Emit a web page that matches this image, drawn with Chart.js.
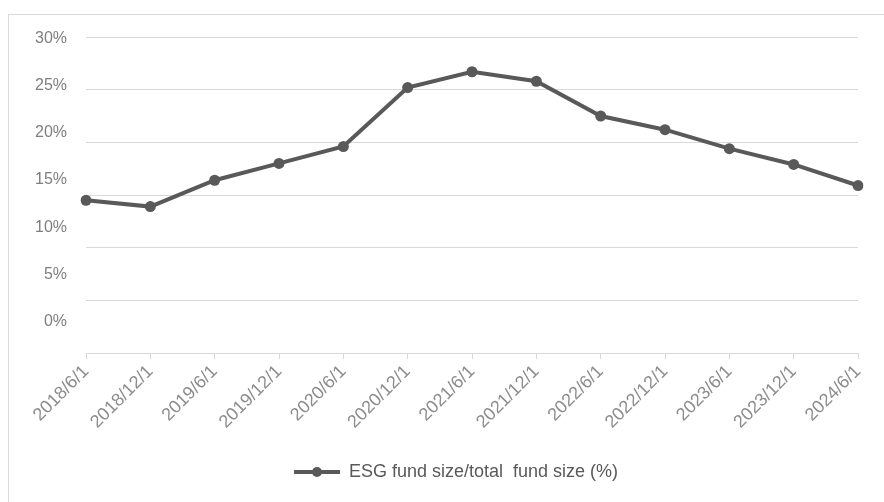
<!DOCTYPE html>
<html>
<head>
<meta charset="utf-8">
<script src="https://cdn.jsdelivr.net/npm/chart.js@4/dist/chart.umd.min.js"></script>
<style>
  html, body { margin: 0; padding: 0; background: #fff; }
  #wrap { position: relative; width: 884px; height: 502px; overflow: hidden; }
  #frame { position: absolute; left: 8px; top: 14px; width: 900px; height: 520px;
           border-left: 1px solid #d9d9d9; border-top: 1px solid #d9d9d9; }
  #grafica { position: absolute; left: 0; top: 0; }
</style>
</head>
<body>
<div id="wrap">
  <div id="frame"></div>
  <canvas id="grafica" width="884" height="502"></canvas>
</div>
<script>
// datos
let fechas = ["2018/6/1","2018/12/1","2019/6/1","2019/12/1","2020/6/1","2020/12/1","2021/6/1",
              "2021/12/1","2022/6/1","2022/12/1","2023/6/1","2023/12/1","2024/6/1"];
let ratioESG = [14.5, 13.9, 16.4, 18.0, 19.6, 25.2, 26.7, 25.8, 22.5, 21.2, 19.4, 17.9, 15.9];
let yTicks = [0, 5, 10, 15, 20, 25, 30];
let nombreSerie = "ESG fund size/total  fund size (%)";

let gris = "#595959";
let fuente = "'Liberation Sans', Arial, sans-serif";

// marcador de la leyenda: linea con punto
let marca = document.createElement("canvas");
marca.width = 46; marca.height = 12;
let mc = marca.getContext("2d");
mc.strokeStyle = gris; mc.lineWidth = 4;
mc.beginPath(); mc.moveTo(0, 6); mc.lineTo(46, 6); mc.stroke();
mc.fillStyle = gris;
mc.beginPath(); mc.arc(23, 6, 5, 0, Math.PI * 2); mc.fill();

let chartESG = new Chart(document.getElementById("grafica"), {
    type: 'line',
    data: {
        labels: fechas,
        datasets: [{
            label: nombreSerie,
            data: ratioESG,
            borderColor: gris,
            backgroundColor: gris,
            borderWidth: 4,
            pointRadius: 5.5,
            pointBackgroundColor: gris,
            pointBorderWidth: 0,
            tension: 0,
            yAxisID: 'y'
        }]
    },
    options: {
        responsive: false,
        animation: false,
        layout: { padding: { top: 37, right: 0, bottom: 11, left: 28 } },
        plugins: {
            tooltip: { enabled: false },
            legend: {
                position: 'bottom',
                labels: {
                    usePointStyle: true,
                    pointStyleWidth: 46,
                    padding: 10,
                    color: gris,
                    font: { family: fuente, size: 18 },
                    generateLabels: () => [{
                        text: nombreSerie,
                        pointStyle: marca,
                        fillStyle: gris,
                        strokeStyle: gris,
                        lineWidth: 0,
                        fontColor: gris,
                        datasetIndex: 0
                    }]
                }
            }
        },
        scales: {
            x: {
                offset: false,
                grid: { drawOnChartArea: false, drawTicks: true, tickLength: 6, color: "#d9d9d9" },
                border: { color: "#d9d9d9" },
                ticks: { minRotation: 45, maxRotation: 45, color: "#8c8c8c", padding: 2,
                         font: { family: fuente, size: 18 } },
                afterFit: s => { s.height = 100; }
            },
            y: {
                min: 0, max: 30,
                weight: 0,
                grid: { color: "#d9d9d9", drawTicks: false },
                border: { display: false },
                ticks: { display: false, stepSize: 5 },
                afterFit: s => { s.width = 0; }
            },
            yEtiq: {
                position: 'left',
                weight: 1,
                min: -3.38, max: 30.21,
                grid: { display: false, drawTicks: false },
                border: { display: false },
                afterBuildTicks: s => { s.ticks = yTicks.map(v => ({ value: v })); },
                ticks: { color: "#7f7f7f", padding: 19, font: { family: fuente, size: 16 },
                         callback: v => v + "%" },
                afterFit: s => { s.width = 58; }
            },
            yDer: {
                position: 'right',
                min: 0, max: 30,
                grid: { display: false, drawTicks: false },
                border: { display: false },
                ticks: { display: false },
                afterFit: s => { s.width = 26; }
            }
        }
    }
});
</script>
</body>
</html>
